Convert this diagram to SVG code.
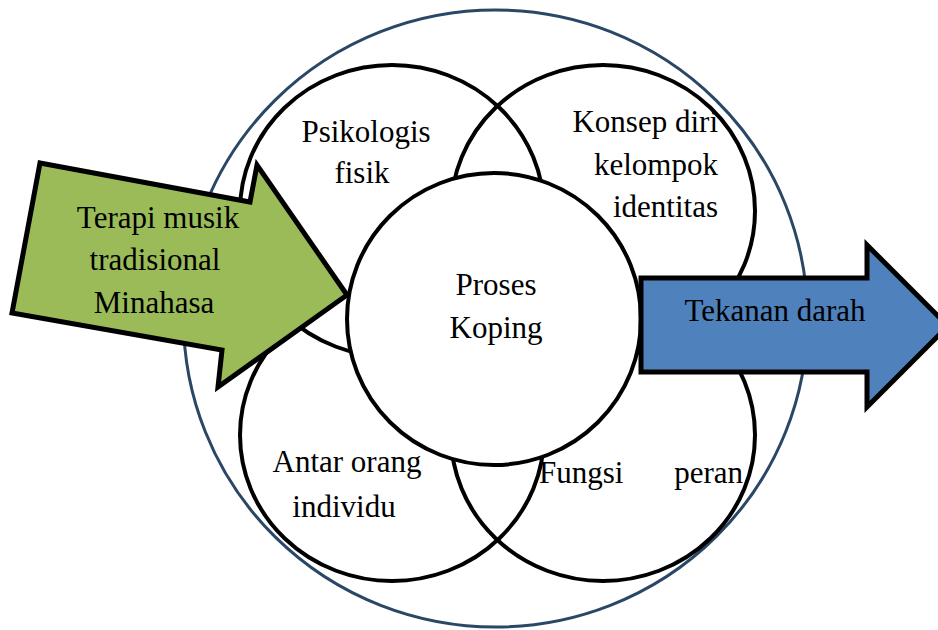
<svg xmlns="http://www.w3.org/2000/svg" width="938" height="630" viewBox="0 0 938 630">
  <style>
    .ring { fill: none; stroke: #000; stroke-width: 4; }
    .core { fill: #fff; stroke: #000; stroke-width: 4; }
    .outer { fill: #fff; stroke: #2A4765; stroke-width: 3; }
    .arrow { stroke: #000; stroke-width: 5; stroke-linejoin: miter; }
    .lbl { font-family: "Liberation Serif", "Times New Roman", serif; font-size: 31px; fill: #000; }
    .mid { text-anchor: middle; }
    .end { text-anchor: end; }
  </style>
  <rect x="0" y="0" width="938" height="630" fill="#fff"/>
  <g id="outer-circle">
    <ellipse class="outer" cx="495.5" cy="318.5" rx="312" ry="308.5"/>
  </g>
  <g id="psikologis">
    <ellipse class="ring" cx="392" cy="211" rx="152" ry="146"/>
  </g>
  <g id="konsep-diri">
    <ellipse class="ring" cx="603" cy="211" rx="152" ry="146"/>
  </g>
  <g id="antar-orang">
    <ellipse class="ring" cx="392" cy="435" rx="152" ry="146"/>
  </g>
  <g id="fungsi-peran">
    <ellipse class="ring" cx="603" cy="435" rx="152" ry="146"/>
  </g>
  <g id="proses-koping">
    <ellipse class="core" cx="494" cy="319" rx="147" ry="146"/>
    <text class="lbl mid" x="496" y="295">Proses</text>
    <text class="lbl mid" x="496" y="338">Koping</text>
  </g>
  <g id="terapi-musik">
    <polygon class="arrow" fill="#9BBB59" points="40,163 250,202 257,165 347,295 218,387 222,350 12,313"/>
    <text class="lbl mid" x="158" y="228">Terapi musik</text>
    <text class="lbl mid" x="155" y="270">tradisional</text>
    <text class="lbl mid" x="154" y="313">Minahasa</text>
  </g>
  <g id="tekanan-darah">
    <polygon class="arrow" fill="#4F81BD" points="641,278 867,278 867,245 948,326 867,407 867,372 641,372"/>
    <text class="lbl mid" x="775" y="321">Tekanan darah</text>
  </g>
  <g id="labels">
    <text class="lbl mid" x="366" y="142">Psikologis</text>
    <text class="lbl mid" x="362" y="183">fisik</text>
    <text class="lbl end" x="718" y="132">Konsep diri</text>
    <text class="lbl end" x="718" y="175">kelompok</text>
    <text class="lbl end" x="718" y="217">identitas</text>
    <text class="lbl mid" x="347" y="472">Antar orang</text>
    <text class="lbl mid" x="344" y="517">individu</text>
    <text class="lbl" x="539" y="483">Fungsi</text>
    <text class="lbl end" x="743" y="483">peran</text>
  </g>
  <g id="connectors"/>
</svg>
